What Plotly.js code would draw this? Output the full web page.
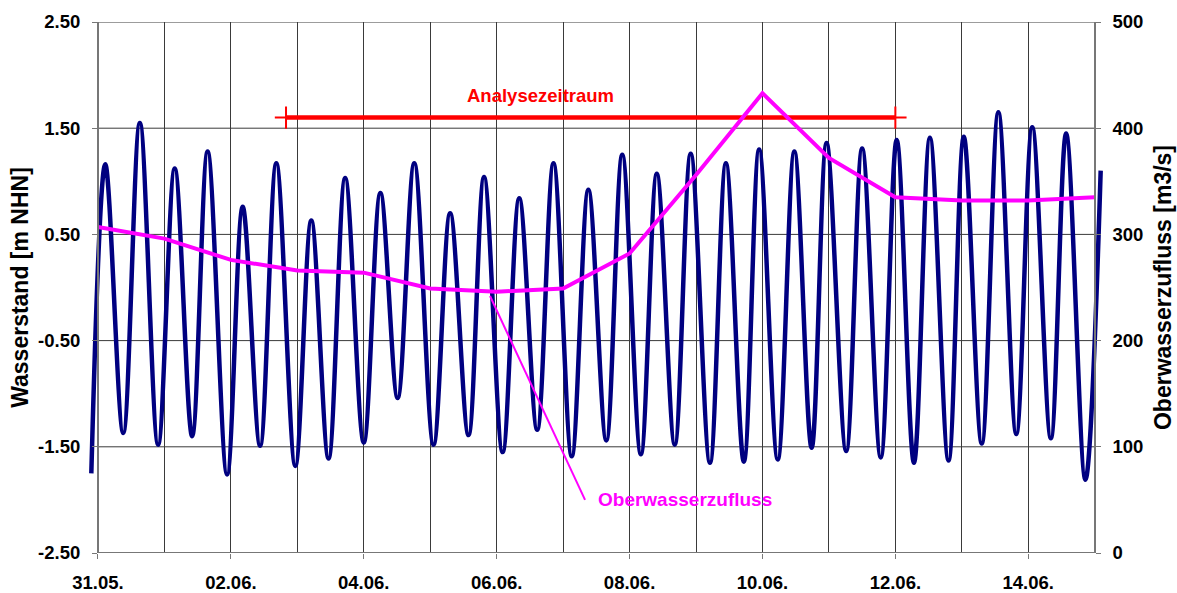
<!DOCTYPE html>
<html>
<head>
<meta charset="utf-8">
<script src="https://cdn.plot.ly/plotly-3.0.1.min.js"></script>
<style>
  html, body { margin: 0; padding: 0; background: #ffffff; }
  #chart { width: 1177px; height: 593px; }
</style>
</head>
<body>
<div id="chart"></div>
<script>
// ---- Data (days after 31.05. 00:00) ----
// Water level: high and low waters [m NHN]
var tideDays = [-0.10, 0.11, 0.38, 0.63, 0.905, 1.155, 1.417, 1.65, 1.943, 2.178, 2.44, 2.684, 2.97,
  3.21, 3.47, 3.72, 4.00, 4.25, 4.51, 4.76, 5.05, 5.30, 5.576, 5.81, 6.09, 6.34, 6.61, 6.855,
  7.13, 7.38, 7.65, 7.89, 8.17, 8.41, 8.68, 8.92, 9.21, 9.45, 9.72, 9.95, 10.23, 10.48, 10.74,
  10.965, 11.26, 11.50, 11.78, 12.02, 12.28, 12.52, 12.80, 13.03, 13.30, 13.55, 13.82, 14.06,
  14.34, 14.57, 14.86, 15.09];
var tideLevels = [-1.75, 1.16, -1.37, 1.55, -1.48, 1.12, -1.40, 1.28, -1.76, 0.76, -1.49, 1.17, -1.68,
  0.63, -1.61, 1.03, -1.46, 0.89, -1.04, 1.17, -1.48, 0.70, -1.39, 1.04, -1.55, 0.84, -1.34, 1.17,
  -1.59, 0.92, -1.44, 1.25, -1.57, 1.07, -1.48, 1.26, -1.65, 1.17, -1.64, 1.30, -1.62, 1.28, -1.51,
  1.36, -1.54, 1.31, -1.60, 1.39, -1.65, 1.41, -1.63, 1.42, -1.47, 1.65, -1.38, 1.51,
  -1.42, 1.45, -1.81, 1.10];

// Upstream inflow (Oberwasserzufluss) [m3/s], daily values
var flowDays = [0, 1, 2, 3, 4, 5, 6, 7, 8, 9, 10, 11, 12, 13, 14, 15];
var flowValues = [307, 296, 276, 266, 264, 249, 246, 249, 282, 356, 433, 372, 335, 332, 332, 335];

// Analysis period bar
var analysisDays = [2.83, 12.0];
var analysisLevels = [1.60, 1.60];

// Axis ticks
var xTickDays = [0, 2, 4, 6, 8, 10, 12, 14];
var xTickLabels = ['31.05.', '02.06.', '04.06.', '06.06.', '08.06.', '10.06.', '12.06.', '14.06.'];
var xMinorDays = [1, 3, 5, 7, 9, 11, 13, 15];
var leftTickVals = [-2.5, -1.5, -0.5, 0.5, 1.5, 2.5];
var leftTickLabels = ['-2.50', '-1.50', '-0.50', '0.50', '1.50', '2.50'];
var rightTickVals = [0, 100, 200, 300, 400, 500];
var rightTickLabels = ['0', '100', '200', '300', '400', '500'];

// ---- Layout constants ----
var FONT = 'Liberation Sans, Arial, sans-serif';
var X0 = 0, X1 = 15;                // axis span (days)
var XR = [-0.15, 15.17];            // drawing range (curve overshoots the axes slightly)
var posLeft = (X0 - XR[0]) / (XR[1] - XR[0]);
var posRight = (X1 - XR[0]) / (XR[1] - XR[0]);
var GRID = '#3a3a3a';
var AXIS = '#777777';

var traces = [
  {
    x: tideDays, y: tideLevels, xaxis: 'x', yaxis: 'y',
    type: 'scatter', mode: 'lines',
    line: { color: '#000080', width: 4.5, shape: 'spline' },
    hoverinfo: 'skip'
  },
  {
    x: analysisDays, y: analysisLevels, xaxis: 'x', yaxis: 'y',
    type: 'scatter', mode: 'lines+markers',
    line: { color: '#FF0000', width: 4.5 },
    marker: { symbol: 'cross-thin', size: 16, color: '#FF0000', line: { color: '#FF0000', width: 2 } },
    hoverinfo: 'skip'
  },
  {
    x: flowDays, y: flowValues, xaxis: 'x', yaxis: 'y2',
    type: 'scatter', mode: 'lines',
    line: { color: '#FF00FF', width: 4 },
    hoverinfo: 'skip'
  }
];

var shapes = [];
leftTickVals.forEach(function (v) {
  if (v === leftTickVals[0]) return;
  shapes.push({ type: 'line', xref: 'x', yref: 'y', x0: X0, x1: X1, y0: v, y1: v,
    line: { color: GRID, width: 1 }, layer: 'below' });
});
// bottom axis line
shapes.push({ type: 'line', xref: 'x', yref: 'y', x0: X0, x1: X1, y0: leftTickVals[0], y1: leftTickVals[0],
  line: { color: AXIS, width: 2 }, layer: 'above' });
// leader line for the inflow label
shapes.push({ type: 'line', xref: 'x', yref: 'y2', x0: 5.9, y0: 242, x1: 7.33, y1: 50,
  line: { color: '#FF00FF', width: 2 }, layer: 'above' });

var tickFont = { family: FONT, size: 18.5, color: '#000000', weight: 700 };
var titleFont = { family: FONT, size: 23, color: '#000000', weight: 700 };

var layout = {
  width: 1177, height: 593,
  margin: { l: 88, r: 71, t: 22, b: 40, pad: 0 },
  paper_bgcolor: '#ffffff',
  plot_bgcolor: 'rgba(0,0,0,0)',
  showlegend: false,
  xaxis: {
    range: XR, anchor: 'y',
    tickmode: 'array', tickvals: xTickDays, ticktext: xTickLabels,
    ticks: 'outside', ticklen: 5, tickwidth: 1, tickcolor: AXIS,
    tickfont: tickFont, ticklabelstandoff: 8,
    showgrid: true, gridcolor: GRID, gridwidth: 1,
    minor: { tickmode: 'array', tickvals: xMinorDays, showgrid: true, gridcolor: GRID, gridwidth: 1, ticks: '' },
    showline: false, zeroline: false, fixedrange: true
  },
  yaxis: {
    range: [-2.5, 2.5], anchor: 'free', position: posLeft, side: 'left',
    tickmode: 'array', tickvals: leftTickVals, ticktext: leftTickLabels,
    ticks: 'outside', ticklen: 5, tickwidth: 1, tickcolor: AXIS,
    tickfont: tickFont, ticklabelstandoff: 8,
    showgrid: false, zeroline: false,
    showline: true, linecolor: AXIS, linewidth: 2,
    title: { text: 'Wasserstand [m NHN]', font: titleFont, standoff: 2 },
    fixedrange: true
  },
  yaxis2: {
    range: [0, 500], anchor: 'free', position: posRight, side: 'right', overlaying: 'y',
    tickmode: 'array', tickvals: rightTickVals, ticktext: rightTickLabels,
    ticks: 'outside', ticklen: 5, tickwidth: 1, tickcolor: AXIS,
    tickfont: tickFont, ticklabelstandoff: 8,
    showgrid: false, zeroline: false,
    showline: true, linecolor: AXIS, linewidth: 2,
    title: { text: 'Oberwasserzufluss [m3/s]', font: titleFont, standoff: 12 },
    fixedrange: true
  },
  shapes: shapes,
  annotations: [
    {
      text: 'Analysezeitraum', xref: 'x', yref: 'y', x: 6.66, y: 1.807,
      showarrow: false, xanchor: 'center', yanchor: 'middle',
      font: { family: FONT, size: 18.5, color: '#FF0000', weight: 700 }
    },
    {
      text: 'Oberwasserzufluss', xref: 'x', yref: 'y', x: 7.50, y: -2.0,
      showarrow: false, xanchor: 'left', yanchor: 'middle',
      font: { family: FONT, size: 19, color: '#FF00FF', weight: 700 }
    }
  ]
};

Plotly.newPlot('chart', traces, layout, { staticPlot: true, displayModeBar: false });
</script>
</body>
</html>
